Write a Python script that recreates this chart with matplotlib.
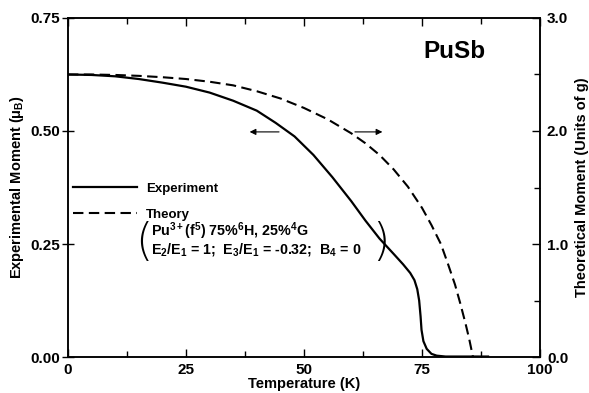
import matplotlib
matplotlib.use('Agg')
import matplotlib.pyplot as plt
from matplotlib.ticker import MultipleLocator, FormatStrFormatter

# fonts: bold Helvetica-like everywhere, mathtext in the same font
plt.rcParams['font.family'] = ['Liberation Sans', 'DejaVu Sans']
plt.rcParams['font.weight'] = 'bold'
plt.rcParams['axes.labelweight'] = 'bold'
plt.rcParams['mathtext.fontset'] = 'custom'
plt.rcParams['mathtext.rm'] = 'Liberation Sans:bold'
plt.rcParams['mathtext.it'] = 'Liberation Sans:bold'
plt.rcParams['mathtext.bf'] = 'Liberation Sans:bold'
plt.rcParams['mathtext.default'] = 'rm'

# experiment (left axis, mu_B)
exp_T = [0, 5, 10, 15, 20, 25, 30, 35, 40, 44, 48, 52, 56, 60, 63, 66, 69,
         71, 72.5, 73.4, 74, 74.4, 74.7, 74.9, 75.3, 76, 77, 78.1, 80, 89]
exp_M = [0.625, 0.624, 0.621, 0.615, 0.607, 0.598, 0.585, 0.567, 0.545,
         0.518, 0.488, 0.447, 0.398, 0.345, 0.302, 0.262, 0.228, 0.205,
         0.186, 0.170, 0.150, 0.125, 0.090, 0.060, 0.035, 0.018, 0.007,
         0.003, 0.001, 0.001]

# theory (right axis, units of g)
th_T = [0, 5, 10, 15, 20, 25, 30, 35, 40, 45, 50, 55, 60, 63, 66, 69, 72,
        75, 77, 79, 80.5, 82, 83.1, 84.2, 85, 85.6, 85.8, 87]
th_g = [2.5, 2.5, 2.496, 2.488, 2.476, 2.46, 2.436, 2.404, 2.352, 2.288,
        2.204, 2.104, 1.98, 1.892, 1.788, 1.66, 1.508, 1.32, 1.168, 1.0,
        0.824, 0.64, 0.476, 0.3, 0.16, 0.04, 0.0, 0.0]

fig = plt.figure(figsize=(5.89, 3.93), dpi=100)
ax = fig.add_axes([0.1154, 0.0916, 0.8014, 0.8626])
ax2 = ax.twinx()

l1, = ax.plot(exp_T, exp_M, color='black', lw=1.6, label='Experiment')
l2, = ax2.plot(th_T, th_g, color='black', lw=1.5, dashes=[5, 2.6], label='Theory')

ax.set_xlim(0, 100)
ax.set_ylim(0, 0.75)
ax2.set_ylim(0, 3.0)

ax.xaxis.set_major_locator(MultipleLocator(25))
ax.xaxis.set_minor_locator(MultipleLocator(12.5))
ax.yaxis.set_major_locator(MultipleLocator(0.25))
ax.yaxis.set_major_formatter(FormatStrFormatter('%.2f'))
ax2.yaxis.set_major_locator(MultipleLocator(1.0))
ax2.yaxis.set_minor_locator(MultipleLocator(0.5))
ax2.yaxis.set_major_formatter(FormatStrFormatter('%.1f'))

ax.tick_params(axis='x', which='both', direction='in', top=True, labelsize=11, pad=4)
ax.tick_params(axis='x', which='major', length=6, width=1)
ax.tick_params(axis='x', which='minor', length=4, width=1)
ax.tick_params(axis='y', which='major', direction='inout', length=8, width=1, labelsize=11, pad=2)
ax2.tick_params(axis='y', which='major', direction='in', length=6, width=1, labelsize=11, pad=5)
ax2.tick_params(axis='y', which='minor', direction='in', length=4, width=1)

for a in (ax, ax2):
    for s in a.spines.values():
        s.set_linewidth(1.1)

ax.set_xlabel('Temperature (K)', fontsize=10.5, labelpad=0)
ax.set_ylabel('Experimental Moment (μ$_B$)', fontsize=10.5, labelpad=3)
ax2.set_ylabel('Theoretical Moment (Units of g)', fontsize=10.5, rotation=90, labelpad=5)

# legend and model parameters
ax.legend(handles=[l1, l2], loc='upper left', bbox_to_anchor=(-0.008, 0.541),
          frameon=False, fontsize=9.5, handlelength=4.8, handletextpad=0.7,
          labelspacing=1.0, borderaxespad=0.3)
ax.text(0.176, 0.370, 'Pu$^{3+}$(f$^5$) 75%$^6$H, 25%$^4$G', transform=ax.transAxes,
        fontsize=10.3, va='center', ha='left')
ax.text(0.176, 0.318, 'E$_2$/E$_1$ = 1;  E$_3$/E$_1$ = -0.32;  B$_4$ = 0',
        transform=ax.transAxes, fontsize=10.3, va='center', ha='left')
ax.text(0.16, 0.338, '(', transform=ax.transAxes, fontsize=32, fontweight='ultralight',
        family='DejaVu Sans', va='center', ha='center')
ax.text(0.663, 0.338, ')', transform=ax.transAxes, fontsize=32, fontweight='ultralight',
        family='DejaVu Sans', va='center', ha='center')

ax.text(0.818, 0.90, 'PuSb', transform=ax.transAxes, fontsize=17.5, va='center', ha='center')

# arrows pointing to the relevant axis
ax.annotate('', xy=(37.9, 0.498), xytext=(45.3, 0.498),
            arrowprops=dict(arrowstyle='-|>', color='black', lw=0.8, mutation_scale=9))
ax.annotate('', xy=(67.2, 0.498), xytext=(60.2, 0.498),
            arrowprops=dict(arrowstyle='-|>', color='black', lw=0.8, mutation_scale=9))

fig.savefig('out.png', dpi=100)
